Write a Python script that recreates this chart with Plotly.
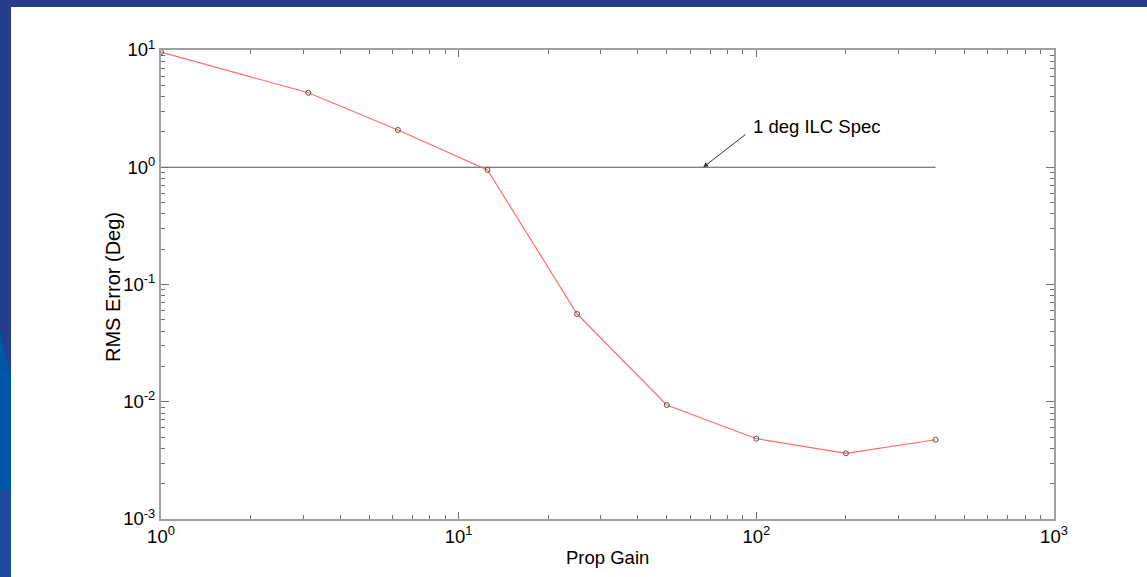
import plotly.graph_objects as go
import math

# Data
prop_gain = [1, 3.125, 6.25, 12.5, 25, 50, 100, 200, 400]
rms_error = [9.6, 4.32, 2.08, 0.948, 0.056, 0.00938, 0.00484, 0.00363, 0.00474]
spec_x = [1, 400]
spec_y = [1, 1]
spec_label = "1 deg ILC Spec"
x_ticks = [1, 10, 100, 1000]
x_ticktext = ["10<sup>0</sup>", "10<sup>1</sup>", "10<sup>2</sup>", "10<sup>3</sup>"]
y_ticks = [0.001, 0.01, 0.1, 1, 10]
y_ticktext = ["10<sup>-3</sup>", "10<sup>-2</sup>", "10<sup>-1</sup>", "10<sup>0</sup>", "10<sup>1</sup>"]

def minor_vals(lo, hi):
    vals = []
    for e in range(lo, hi):
        for d in range(2, 10):
            vals.append(d * 10 ** e)
    return vals

FONT = "Liberation Sans, Arial, sans-serif"
AXIS_COLOR = "#a0a0a0"
TICK_COLOR = "#707070"
FS = 18.5

fig = go.Figure()
fig.add_trace(go.Scatter(
    x=spec_x, y=spec_y, mode="lines",
    line=dict(color="#555555", width=1.2), hoverinfo="skip", showlegend=False))
fig.add_trace(go.Scatter(
    x=prop_gain, y=rms_error, mode="lines+markers",
    line=dict(color="#ff6b6b", width=1.2),
    marker=dict(symbol="circle-open", size=5, color="#555555", line=dict(width=1)),
    showlegend=False))

W, H = 1147, 577
L, R, T, B = 161, 93, 50, 58
pw, ph = W - L - R, H - T - B

def px(x):
    return (x - L) / pw

def py(y):
    return (H - B - y) / ph

shapes = [
    dict(type="rect", xref="paper", yref="paper", x0=px(11), x1=px(W + 5), y0=py(7), y1=py(H + 5),
         fillcolor="white", line=dict(width=0), layer="below"),
    dict(type="path", xref="paper", yref="paper",
         path=f"M {px(0)},{py(330)} L {px(11)},{py(375)} L {px(11)},{py(490)} L {px(0)},{py(490)} Z",
         fillcolor="#0055a6", line=dict(width=0), layer="below"),
    dict(type="rect", xref="paper", yref="paper", x0=px(-1), x1=px(11), y0=py(490), y1=py(H + 5),
         fillcolor="#1d4b99", line=dict(width=0), layer="below"),
]

fig.update_layout(
    width=W, height=H,
    margin=dict(l=L, r=R, t=T, b=B, autoexpand=False),
    paper_bgcolor="#263d8e", plot_bgcolor="white",
    font=dict(family=FONT, size=FS, color="black"),
    shapes=shapes,
    xaxis=dict(
        type="log", range=[0, 3], tickmode="array", tickvals=x_ticks, ticktext=x_ticktext,
        showgrid=False, zeroline=False, showline=True, linecolor=AXIS_COLOR, linewidth=2,
        mirror="ticks", ticks="inside", ticklen=7, tickcolor=TICK_COLOR, tickwidth=1,
        tickfont=dict(family=FONT, size=FS, color="black"),
        minor=dict(tickmode="array", tickvals=minor_vals(0, 3), ticks="inside", ticklen=4,
                   tickcolor=TICK_COLOR, tickwidth=1, showgrid=False),
    ),
    yaxis=dict(
        type="log", range=[-3, 1], tickmode="array", tickvals=y_ticks, ticktext=y_ticktext,
        showgrid=False, zeroline=False, showline=True, linecolor=AXIS_COLOR, linewidth=2,
        mirror="ticks", ticks="inside", ticklen=8, tickcolor=TICK_COLOR, tickwidth=1,
        tickfont=dict(family=FONT, size=FS, color="black"),
        minor=dict(tickmode="array", tickvals=minor_vals(-3, 1), ticks="inside", ticklen=4,
                   tickcolor=TICK_COLOR, tickwidth=1, showgrid=False),
    ),
    annotations=[
        dict(text="Prop Gain", xref="paper", yref="paper", x=0.5, y=py(557),
             showarrow=False, xanchor="center", yanchor="middle",
             font=dict(family=FONT, size=FS, color="black")),
        dict(text="RMS Error (Deg)", xref="paper", yref="paper", x=px(113), y=py(287),
             showarrow=False, xanchor="center", yanchor="middle", textangle=-90,
             font=dict(family=FONT, size=20, color="black")),
        dict(text=spec_label, xref="x", yref="y",
             x=(750.7 - L) / (pw / 3), y=1 - (126.7 - T) / (ph / 4),
             showarrow=False, xanchor="left", yanchor="middle",
             font=dict(family=FONT, size=FS, color="black")),
        dict(text="", xref="x", yref="y", axref="x", ayref="y",
             x=math.log10(66.3), y=0,
             ax=(747 - L) / (pw / 3), ay=1 - (133.3 - T) / (ph / 4),
             showarrow=True, arrowhead=2, arrowsize=1, arrowwidth=1, arrowcolor="#333333"),
    ],
)

fig.write_html("out.html")
